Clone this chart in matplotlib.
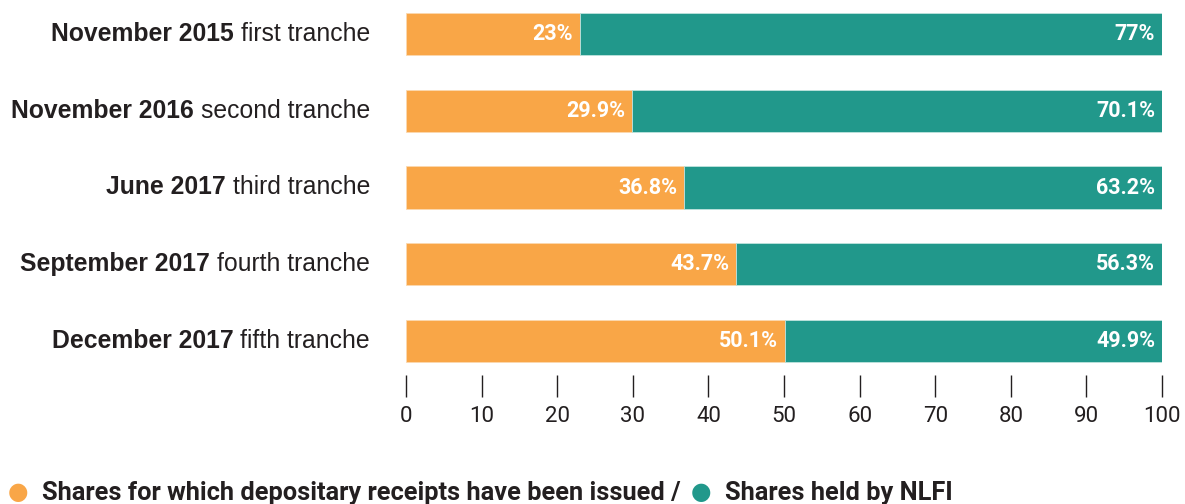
import matplotlib
matplotlib.use("Agg")
import matplotlib.pyplot as plt

categories_bold = ["November 2015", "November 2016", "June 2017", "September 2017", "December 2017"]
categories_rest = ["first tranche", "second tranche", "third tranche", "fourth tranche", "fifth tranche"]
issued = [23, 29.9, 36.8, 43.7, 50.1]
nlfi = [77, 70.1, 63.2, 56.3, 49.9]
issued_labels = ["23%", "29.9%", "36.8%", "43.7%", "50.1%"]
nlfi_labels = ["77%", "70.1%", "63.2%", "56.3%", "49.9%"]
xticks = [0, 10, 20, 30, 40, 50, 60, 70, 80, 90, 100]
legend_labels = ["Shares for which depositary receipts have been issued /", "Shares held by NLFI"]

ORANGE = "#F9A647"
TEAL = "#21988B"
DARK = "#231F20"
narrow = "Roboto"
plt.rcParams['font.family'] = ['Liberation Sans', 'DejaVu Sans']

W, H = 1185, 504
fig = plt.figure(figsize=(W / 100, H / 100), dpi=100)
ax = fig.add_axes([406 / W, 1 - 375 / H, (1162 - 406) / W, 375 / H])

y = list(range(len(issued)))
ax.barh(y, issued, height=0.55, color=ORANGE, edgecolor="#FBD9B0", linewidth=0.6)
ax.barh(y, nlfi, left=issued, height=0.55, color=TEAL, edgecolor="#BFE3DE", linewidth=0.6)
ax.set_xlim(0, 100)
ax.set_ylim(4.44, -0.44)

fig.canvas.draw()
renderer = fig.canvas.get_renderer()
for i in y:
    ax.annotate(issued_labels[i], (issued[i], i), xytext=(-5, 0), textcoords="offset points",
                ha="right", va="center", color="white", fontsize=15.5, fontweight="bold", family=narrow)
    ax.annotate(nlfi_labels[i], (100, i), xytext=(-5, 0), textcoords="offset points",
                ha="right", va="center", color="white", fontsize=15.5, fontweight="bold", family=narrow)
    t2 = ax.annotate(categories_rest[i], (0, i), xytext=(-36 * 0.72, 0), textcoords="offset points",
                     ha="right", va="center", color=DARK, fontsize=17.8)
    bb = t2.get_window_extent(renderer)
    ax.annotate(categories_bold[i] + " ", (0, i), xycoords="data",
                xytext=(-36 * 0.72 - bb.width * 0.72, 0), textcoords="offset points",
                ha="right", va="center", color=DARK, fontsize=17.8, fontweight="bold")

ax.set_yticks([])
ax.set_xticks(xticks)
ax.set_xticklabels([str(v) for v in xticks], family=narrow, fontsize=16, color=DARK)
ax.tick_params(axis="x", length=16, width=1.0, color=DARK, pad=6, direction="out")
for s in ax.spines.values():
    s.set_visible(False)

# legend
yl = 1 - 493 / H
fig.text(18 / W, yl + 0.002, "●", color=ORANGE, fontsize=17, ha="center", va="center", family="DejaVu Sans")
t = fig.text(42 / W, yl, legend_labels[0],
             color=DARK, fontsize=18.3, fontweight="bold", ha="left", va="center", family=narrow)
bb = t.get_window_extent(renderer)
x2 = bb.x1 + 20
fig.text(x2 / W, yl + 0.002, "●", color=TEAL, fontsize=17, ha="center", va="center", family="DejaVu Sans")
fig.text((x2 + 24) / W, yl, legend_labels[1],
         color=DARK, fontsize=18.3, fontweight="bold", ha="left", va="center", family=narrow)

fig.savefig("out.png", dpi=100)
